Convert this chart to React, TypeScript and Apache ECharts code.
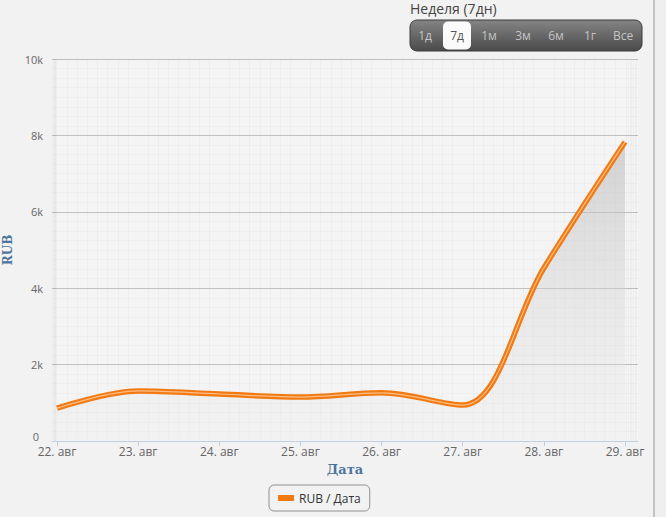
import React, { useEffect, useRef } from "react";
import * as echarts from "echarts";

const days = [22, 23, 24, 25, 26, 27, 28, 29];
const monthLabel = "авг";
const values = [860, 1310, 1230, 1150, 1260, 940, 4530, 7830];
const yTicks = [0, 2000, 4000, 6000, 8000, 10000];
const rangeButtons = ["1д", "7д", "1м", "3м", "6м", "1г", "Все"];
const rangeTitle = "Неделя (7дн)";
const seriesName = "RUB / Дата";

const DAY = 86400000;

export default function App() {
  const ref = useRef<HTMLDivElement>(null);
  useEffect(() => {
    if (!ref.current) return;
    const chart = echarts.init(ref.current, undefined, { renderer: "svg" });
    const t0 = new Date(2013, 7, days[0]).getTime();
    const times = days.map((d) => new Date(2013, 7, d).getTime());
    const data = times.map((t, i) => [t, values[i]]);
    const btnCenters = [425, 457, 489, 523, 556, 590, 623];
    const selected = 1;
    const graphics: any[] = [
      {
        type: "text",
        left: 410,
        top: 1,
        style: { text: rangeTitle, fontSize: 14, fill: "#444", fontFamily: "Open Sans" },
      },
      {
        type: "rect",
        shape: { x: 410, y: 20, width: 232, height: 31, r: 7 },
        style: {
          fill: new echarts.graphic.LinearGradient(0, 0, 0, 1, [
            { offset: 0, color: "#858585" },
            { offset: 1, color: "#4a4a4a" },
          ]),
          stroke: "#3a3a3a",
          lineWidth: 1,
        },
      },
      {
        type: "rect",
        shape: { x: 443, y: 21.5, width: 28, height: 28, r: 5 },
        style: { fill: "#fbfbfb" },
      },
      ...rangeButtons.map((b, i) => ({
        type: "text",
        x: btnCenters[i],
        y: 35,
        style: {
          text: b,
          fontSize: 12,
          fill: i === selected ? "#555" : "#c4c4c4",
          fontFamily: "Open Sans",
          align: "center",
          verticalAlign: "middle",
        },
      })),
    ];
    chart.setOption({
      animation: false,
      backgroundColor: "#f2f2f2",
      textStyle: { fontFamily: "Open Sans" },
      grid: {
        left: 52,
        right: 15,
        top: 59,
        bottom: 76,
        outerBoundsMode: "none",
        containLabel: false,
        show: true,
        backgroundColor: "#f4f4f4",
        borderWidth: 0,
      },
      legend: {
        data: [seriesName],
        left: 269,
        top: 485,
        itemWidth: 16,
        itemHeight: 6,
        icon: "rect",
        padding: [7, 9, 7, 9],
        borderColor: "#909090",
        borderWidth: 1,
        borderRadius: 5,
        textStyle: { color: "#333", fontSize: 12, fontFamily: "Open Sans" },
      },
      xAxis: {
        type: "time",
        min: t0 - 0.0616 * DAY,
        max: t0 + 7.16 * DAY,
        minInterval: DAY,
        maxInterval: DAY,
        name: "Дата",
        nameLocation: "middle",
        nameGap: 22,
        nameTextStyle: { color: "#4d759e", fontWeight: "bold", fontSize: 13, fontFamily: "DejaVu Serif" },
        axisLine: { show: true, lineStyle: { color: "#c0d0e0" } },
        axisTick: { show: true, length: 5, lineStyle: { color: "#c0d0e0" } },
        axisLabel: {
          color: "#666",
          fontSize: 12,
          margin: 4,
          hideOverlap: false,
          formatter: (v: number) => {
            const d = new Date(v);
            if (d.getHours() !== 0 || d.getMinutes() !== 0) return "";
            return `${d.getDate()}. ${monthLabel}`;
          },
        },
        splitLine: { show: false },
        minorTick: { show: false, splitNumber: 8 },
        minorSplitLine: { show: true, lineStyle: { color: "rgba(0,0,0,0.025)" } },
      },
      yAxis: {
        type: "value",
        min: yTicks[0],
        max: yTicks[yTicks.length - 1],
        interval: 2000,
        name: "RUB",
        nameLocation: "middle",
        nameGap: 36,
        nameRotate: 90,
        nameTextStyle: { color: "#4d759e", fontWeight: "bold", fontSize: 12, fontFamily: "DejaVu Serif" },
        axisLine: { show: false },
        axisTick: { show: false },
        axisLabel: {
          color: "#666",
          fontSize: 11,
          margin: 9,
          formatter: (v: number) => (v === 0 ? "{z|0}" : `${v / 1000}k`),
          rich: { z: { color: "#666", fontSize: 11, padding: [0, 4, 9, 0] } },
        },
        splitLine: { show: true, lineStyle: { color: "#c0c0c0", width: 1 } },
        minorTick: { show: false, splitNumber: 8 },
        minorSplitLine: { show: true, lineStyle: { color: "rgba(0,0,0,0.025)" } },
      },
      graphic: graphics,
      series: [
        {
          name: seriesName,
          type: "line",
          data,
          smooth: 0.35,
          showSymbol: false,
          color: "#f27a12",
          lineStyle: { width: 5.5, color: "#f27a12" },
          areaStyle: {
            color: new echarts.graphic.LinearGradient(0, 0, 0, 1, [
              { offset: 0, color: "rgba(185,185,185,0.85)" },
              { offset: 1, color: "rgba(235,235,235,0.3)" },
            ]),
          },
        },
        {
          name: "hl",
          type: "line",
          data,
          smooth: 0.35,
          showSymbol: false,
          silent: true,
          lineStyle: { width: 1.2, color: "#ffbe85" },
        },
      ],
    });
    return () => chart.dispose();
  }, []);
  return (
    <div style={{ position: "fixed", left: 0, top: 0, width: 666, height: 517, background: "#efefef" }}>
      <div
        style={{
          position: "absolute",
          left: 0,
          top: 0,
          width: 653,
          height: 517,
          overflow: "hidden",
          borderRight: "2px solid #c4c4c4",
        }}
      >
        <div ref={ref} style={{ width: 653, height: 517 }} />
      </div>
    </div>
  );
}
